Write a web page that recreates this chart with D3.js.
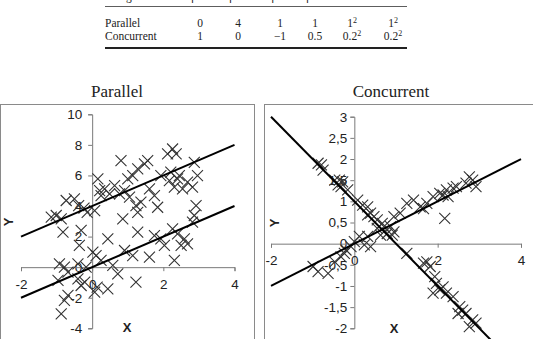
<!DOCTYPE html>
<html><head><meta charset="utf-8">
<script src="https://cdn.jsdelivr.net/npm/d3@7"></script>
<style>
body{margin:0;background:#fff;}
svg{display:block;}
</style></head>
<body>
<svg id="chart" width="533" height="339"></svg>
<script>
// ---- table data ----
const tableHeader = ["Design", "β01", "β02", "β11", "β12", "σ1²", "σ2²"];
const tableRowNames = ["Parallel", "Concurrent"];
const tableParallelBase = ["0", "4", "1", "1", "1", "1"];
const tableConcurrentBase = ["1", "0", "\u22121", "0.5", "0.2", "0.2"];
const tableSuperscripts = ["", "", "", "", "2", "2"];

// ---- line parameters (intercept, slope) ----
const parallelIntercepts = [0, 4];
const parallelSlopes = [1, 1];
const concurrentIntercepts = [1, 0];
const concurrentSlopes = [-1, 0.5];

// ---- ticks ----
const parallelXTicks = [-2, 0, 2, 4];
const parallelYTicks = [-4, -2, 0, 2, 4, 6, 8, 10];
const concurrentXTicks = [-2, 0, 2, 4];
const concurrentYTicks = [-2, -1.5, -1, -0.5, 0, 0.5, 1, 1.5, 2, 2.5, 3];

// ---- scatter points ----
const parallelX = [-1.01,-0.87,-0.82,-0.73,-0.50,-0.38,-0.23,-0.14,-0.31,-0.36,0.16,0.21,0.35,0.49,0.07,0.81,0.77,0.91,1.05,0.86,1.00,1.14,1.23,1.37,1.28,1.28,1.47,1.56,1.61,1.75,1.84,1.93,2.12,2.26,2.36,2.17,2.31,2.40,2.54,2.68,2.82,2.96,2.92,2.87,2.21,2.45,0.63,0.25,-1.15,
  -0.92,-0.78,-0.68,-0.87,-0.78,-0.68,-0.96,-0.40,-0.31,-0.21,0.02,0.11,0.07,0.14,0.44,0.44,0.58,0.72,0.91,1.14,1.23,1.28,1.61,1.75,1.93,2.03,2.31,2.26,2.40,2.50,2.59,2.68,2.82,2.87,-0.17,0.25,-0.40];
const parallelY = [3.38,3.16,2.29,4.36,4.47,4.03,3.86,3.59,2.40,1.42,5.77,5.01,5.12,4.79,3.70,6.97,4.79,5.01,4.58,3.16,5.77,5.99,4.03,4.25,3.59,6.43,6.75,6.97,5.12,4.68,3.92,5.99,7.41,7.73,7.41,5.66,5.23,5.77,5.12,5.56,5.23,5.99,4.03,6.86,6.21,5.99,5.34,4.68,3.27,
  0.22,0.00,-0.33,-3.05,-2.18,-1.85,-0.87,-0.76,-1.20,-0.98,0.98,0.76,-1.63,-1.31,-1.42,1.85,0.11,-0.44,1.09,0.76,-0.98,2.29,0.65,2.07,1.85,1.42,0.44,2.51,2.18,1.42,1.85,1.53,2.94,3.38,0.00,0.44,0.22];

const concurrentX = [-0.99,-0.87,-0.63,-0.47,-0.32,-0.24,-0.08,0.00,0.12,0.24,0.32,0.39,0.55,0.63,0.71,0.79,1.10,1.26,1.42,1.58,1.66,1.74,2.05,2.13,2.21,2.25,2.37,2.45,2.17,2.76,2.84,2.92,2.68,1.89,0.95,-0.20,
  -0.87,-0.79,-0.75,-0.47,-0.36,-0.39,-0.32,-0.28,-0.16,0.08,0.20,0.32,0.39,0.47,0.32,0.55,0.67,0.87,0.95,0.91,1.26,1.66,1.74,1.82,1.93,1.97,2.05,1.89,2.13,2.21,2.37,2.53,2.60,2.68,2.84,2.92,2.76,2.49];
const concurrentY = [-0.54,-0.66,-0.70,-0.43,-0.31,-0.23,-0.07,0.05,0.17,-0.03,0.17,-0.07,0.36,0.20,0.40,0.24,0.72,0.95,1.03,0.87,0.83,0.95,1.19,1.15,1.27,1.11,1.31,1.35,0.60,1.58,1.50,1.35,1.43,1.11,0.64,-0.15,
  1.90,1.86,1.74,1.50,1.50,1.39,1.35,1.46,1.27,1.03,0.91,0.87,0.72,0.64,0.68,0.56,0.48,0.40,0.28,0.20,-0.23,-0.46,-0.43,-0.54,-0.78,-0.94,-1.09,-1.17,-1.02,-1.17,-1.25,-1.49,-1.57,-1.65,-1.80,-1.88,-1.96,-1.65];

const svg = d3.select("#chart");

// ---- table ----
const colX = [200, 238, 280, 315, 352, 393];
const serif = "'Liberation Serif','DejaVu Serif',serif";
const sans = "'Liberation Sans',Arial,sans-serif";
const tbl = svg.append("g").attr("font-family", serif).attr("font-size", 11.5).attr("fill", "#222");
tbl.append("line").attr("x1", 105).attr("x2", 407).attr("y1", 6.5).attr("y2", 6.5).attr("stroke", "#333").attr("stroke-width", 0.8);
tbl.append("line").attr("x1", 105).attr("x2", 407).attr("y1", 48).attr("y2", 48).attr("stroke", "#222").attr("stroke-width", 1.8);
tbl.append("text").attr("x", 105).attr("y", 0).text(tableHeader[0]);
tableHeader.slice(1).forEach((h, i) => {
  tbl.append("text").attr("x", colX[i]).attr("y", 0).attr("text-anchor", "middle").text(h);
});
[tableParallelBase, tableConcurrentBase].forEach((row, r) => {
  const y = 27 + r * 13;
  tbl.append("text").attr("x", 105).attr("y", y).text(tableRowNames[r]);
  row.forEach((v, i) => {
    const t = tbl.append("text").attr("x", colX[i]).attr("y", y).attr("text-anchor", "middle");
    t.append("tspan").text(v);
    if (tableSuperscripts[i]) {
      t.append("tspan").attr("font-size", 8).attr("dy", -4.5).text(tableSuperscripts[i]);
    }
  });
});

// ---- panel builder ----
function panel(cfg) {
  const g = svg.append("g");
  g.append("rect").attr("x", cfg.frame[0]).attr("y", cfg.frame[1]).attr("width", cfg.frame[2]).attr("height", cfg.frame[3])
    .attr("fill", "none").attr("stroke", "#8a8a8a").attr("stroke-width", 1);
  g.append("text").attr("x", cfg.titleX).attr("y", 97).attr("text-anchor", "middle")
    .attr("font-family", serif).attr("font-size", 17).attr("fill", "#222").text(cfg.title);

  const xs = cfg.x, ys = cfg.y;
  const fmt = cfg.fmt;
  const yAxis = d3.axisLeft(ys).tickValues(cfg.yTicks).tickSize(4).tickPadding(cfg.yPad).tickFormat(fmt);
  const xAxis = d3.axisBottom(xs).tickValues(cfg.xTicks).tickSize(4).tickPadding(8).tickFormat(fmt);
  const ya = g.append("g").attr("transform", `translate(${xs(0)},0)`).call(yAxis);
  const xa = g.append("g").attr("transform", `translate(0,${ys(0)})`).call(xAxis);
  [ya, xa].forEach(a => {
    a.select(".domain").attr("stroke", "#7a7a7a");
    a.selectAll(".tick line").attr("stroke", "#7a7a7a");
    a.selectAll(".tick text").attr("font-family", sans).attr("font-size", 13.5).attr("fill", "#222");
  });

  // axis titles
  g.append("text").attr("transform", `translate(${cfg.yLabel[0]},${cfg.yLabel[1]}) rotate(-90)`)
    .attr("text-anchor", "middle").attr("dominant-baseline", "central")
    .attr("font-family", sans).attr("font-weight", "bold").attr("font-size", 13).attr("fill", "#222").text("Y");
  g.append("text").attr("x", cfg.xLabel[0]).attr("y", cfg.xLabel[1])
    .attr("text-anchor", "middle").attr("dominant-baseline", "central")
    .attr("font-family", sans).attr("font-weight", "bold").attr("font-size", 13).attr("fill", "#222").text("X");

  // markers
  const s = 5.5;
  const pts = cfg.px.map((v, i) => [v, cfg.py[i]]);
  g.append("g").selectAll("path").data(pts).join("path")
    .attr("d", d => {
      const cx = xs(d[0]), cy = ys(d[1]);
      return `M${cx - s},${cy - s}L${cx + s},${cy + s}M${cx - s},${cy + s}L${cx + s},${cy - s}`;
    })
    .attr("stroke", "#333").attr("stroke-width", 1.1).attr("fill", "none");

  // fitted lines
  const line = d3.line().x(d => xs(d[0])).y(d => ys(d[1]));
  cfg.intercepts.forEach((b0, i) => {
    const b1 = cfg.slopes[i];
    g.append("path").attr("d", line([[-2, b0 - 2 * b1], [4, b0 + 4 * b1]]))
      .attr("stroke", "#000").attr("stroke-width", 2).attr("fill", "none");
  });
}

panel({
  title: "Parallel", titleX: 117,
  frame: [0.5, 104.5, 254, 260],
  x: d3.scaleLinear([-2, 4], [21, 234.5]),
  y: d3.scaleLinear([-4, 10], [328.3, 114.3]),
  xTicks: parallelXTicks, yTicks: parallelYTicks,
  fmt: d => String(d),
  yPad: 6,
  yLabel: [8, 222], xLabel: [127, 327],
  px: parallelX, py: parallelY,
  intercepts: parallelIntercepts, slopes: parallelSlopes
});

panel({
  title: "Concurrent", titleX: 391,
  frame: [264.5, 104.5, 290, 260],
  x: d3.scaleLinear([-2, 4], [271, 521]),
  y: d3.scaleLinear([-2, 3], [328.3, 116.7]),
  xTicks: concurrentXTicks, yTicks: concurrentYTicks,
  fmt: d => String(d).replace(".", ","),
  yPad: 3,
  yLabel: [274, 223], xLabel: [394, 328],
  px: concurrentX, py: concurrentY,
  intercepts: concurrentIntercepts, slopes: concurrentSlopes
});
</script>
</body></html>
